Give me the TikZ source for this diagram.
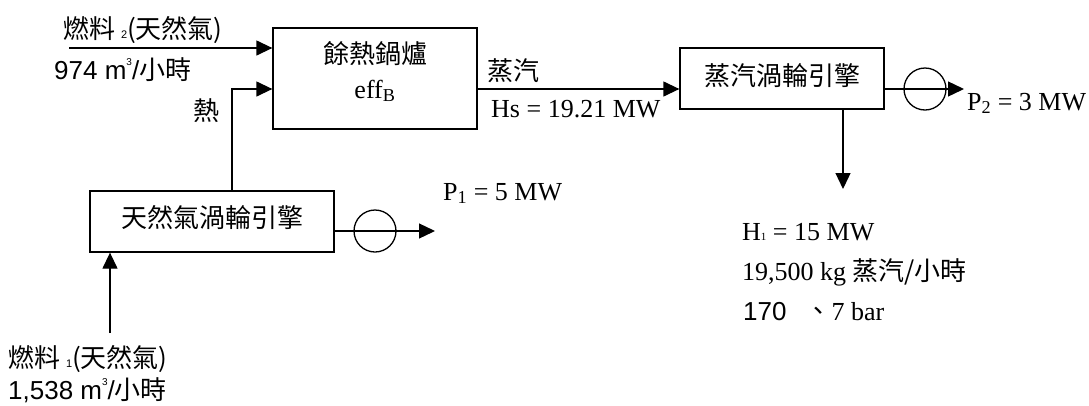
\documentclass[tikz,border=0pt]{standalone}
\usepackage{fontspec}
\setmainfont{Liberation Serif}
\newfontfamily\cjk{Noto Sans CJK TC}
\newfontfamily\ars{Liberation Sans}
\usetikzlibrary{arrows.meta}
\newcommand\mysup[1]{\raisebox{0.52em}{\fontsize{10}{10}\selectfont #1}}
\newcommand\mytiny[1]{{\fontsize{11}{11}\selectfont #1}}
\begin{document}
\begin{tikzpicture}[x=1pt,y=-1pt,
  every node/.style={font=\fontsize{26}{30}\selectfont},
  box/.style={draw, line width=1.3pt, inner sep=0pt},
  gen/.style={draw, circle, line width=1.3pt, minimum size=42pt, inner sep=0pt},
  arr/.style={-{Triangle[length=16pt,width=15pt]}, line width=1.3pt},
  lbl/.style={inner sep=0pt, anchor=base west},
  ctr/.style={inner sep=0pt, anchor=base}]
\useasboundingbox (0,0) rectangle (1089,405);
% boxes
\node[box, minimum width=204pt, minimum height=101pt] (boiler) at (375,78.5) {};
\node[box, minimum width=204pt, minimum height=61pt] (st) at (782,78.5) {};
\node[box, minimum width=244pt, minimum height=61pt] (gt) at (212,221.5) {};
% box texts
\node[ctr] (boilertxt) at (375,63) {\cjk 餘熱鍋爐};
\node[ctr] (efftxt) at (375,98) {eff\textsubscript{B}};
\node[ctr] (sttxt) at (782,85) {\cjk 蒸汽渦輪引擎};
\node[ctr] (gttxt) at (212,227) {\cjk 天然氣渦輪引擎};
% fuel 2
\coordinate (f2) at (69,48);
\draw[arr] (f2) -- (f2 -| boiler.west);
\node[lbl] (f2a) at (63,38) {\cjk 燃料 {\ars\mytiny{2}}(天然氣)};
\node[lbl] (f2b) at (54,79) {\ars 974 m\mysup{3}/{\cjk 小時}};
% heat
\coordinate (ht) at (232,89);
\draw[arr] (gt.north -| ht) |- (boiler.west |- ht);
\node[lbl] (heat) at (193,120) {\cjk 熱};
% steam
\draw[arr] (boiler.east |- ht) -- (st.west |- ht);
\node[lbl] (steam) at (487,80) {\cjk 蒸汽};
\node[lbl] (hs) at (491,117) {Hs = 19.21 MW};
% steam turbine output
\node[gen] (g2) at (925,89) {};
\coordinate (p2end) at (964,89);
\draw[arr] (st.east |- g2) -- (p2end);
\node[lbl] (p2) at (967,110) {P\textsubscript{2} = 3 MW};
% steam turbine down
\coordinate (sd) at (843,189);
\draw[arr] (st.south -| sd) -- (sd);
% gas turbine output
\node[gen] (g1) at (375,231) {};
\coordinate (p1end) at (435,231);
\draw[arr] (gt.east |- g1) -- (p1end);
\node[lbl] (p1) at (443,200) {P\textsubscript{1} = 5 MW};
% fuel 1
\coordinate (f1) at (110,333);
\draw[arr] (f1) -- (f1 |- gt.south);
\node[lbl] (f1a) at (8,367) {\cjk 燃料 {\ars\mytiny{1}}(天然氣)};
\node[lbl] (f1b) at (8,399) {\ars 1,538 m\mysup{3}/{\cjk 小時}};
% heat output
\node[lbl] (h1a) at (742,240) {H\mytiny{1} = 15 MW};
\node[lbl] (h1b) at (742,280) {19,500 kg {\cjk 蒸汽/小時}};
\node[lbl] (h1c) at (743,320) {{\ars 170}\hspace{19pt}{\cjk 、}7 bar};
\end{tikzpicture}
\end{document}
